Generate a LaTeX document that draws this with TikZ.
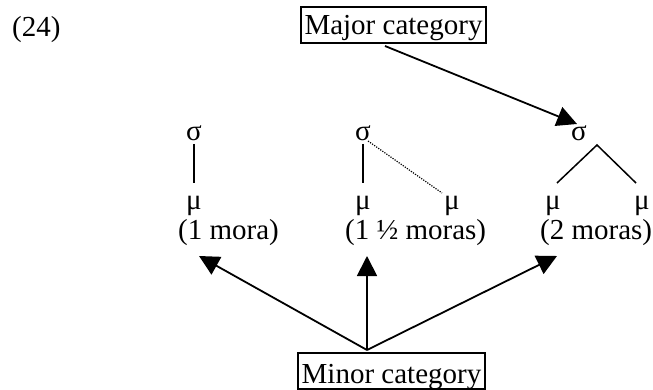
\documentclass[tikz,border=0pt]{standalone}
\usepackage{fontspec}
\setmainfont{Liberation Serif}
\usetikzlibrary{arrows.meta,calc}
\tikzset{
  txt/.style={inner sep=0pt, font=\fontsize{29}{34}\selectfont},
  catbox/.style={draw, line width=1.8pt, inner xsep=3.5pt, inner ysep=1pt, font=\fontsize{29}{34}\selectfont},
  branch/.style={line width=1.5pt},
  dotbranch/.style={line width=1.2pt, dash pattern=on 1.2pt off 1.3pt},
  bigarrow/.style={line width=1.8pt, -{Triangle[length=20pt,width=20pt]}}
}
\begin{document}
\begin{tikzpicture}[x=1pt,y=-1pt]
\useasboundingbox (0,0) rectangle (653,390);
% label
\node[txt, anchor=base west] (num) at (12,37) {(24)};
% category boxes
\node[catbox, text height=27pt, text depth=7pt, anchor=base] (maj) at (393.5,35) {Major category};
\node[catbox, text height=29pt, text depth=5pt, anchor=base] (mino) at (391.5,383) {Minor category};
% syllables
\node[txt, anchor=base] (s1) at (194,141) {σ};
\node[txt, anchor=base] (s2) at (363,141) {σ};
\node[txt, anchor=base] (s3) at (579,141) {σ};
% moras
\node[txt, anchor=base] (m1) at (194,210) {μ};
\node[txt, anchor=base] (m2a) at (363,210) {μ};
\node[txt, anchor=base] (m2b) at (452,210) {μ};
\node[txt, anchor=base] (m3a) at (553,210) {μ};
\node[txt, anchor=base] (m3b) at (642,210) {μ};
% labels
\node[txt, anchor=base west] (l1) at (178,240) {(1 mora)};
\node[txt, anchor=base west] (l2) at (345,240) {(1 ½ moras)};
\node[txt, anchor=base west] (l3) at (540,240) {(2 moras)};
% association lines
\draw[branch] ($(s1.base)+(0,3)$) -- ($(m1.base)+(0,-27)$);
\draw[branch] ($(s2.base)+(0,3)$) -- ($(m2a.base)+(0,-27)$);
\draw[dotbranch] ($(s2.base)+(5,0)$) -- ($(m2b.base)+(-10,-17)$);
\coordinate (apex) at ($(s3.base)+(18,4)$);
\draw[branch] ($(m3a.base)+(4,-27)$) -- (apex) -- ($(m3b.base)+(-6,-27)$);
% arrows
\draw[bigarrow] ($(maj.base)+(-8.5,11)$) -- ($(s3.base)+(-2,-17)$);
\coordinate (src) at ($(mino.base)+(-24.5,-33)$);
\draw[bigarrow] (src) -- ($(l1.base west)+(21,16)$);
\draw[bigarrow] (src) -- ($(l2.base west)+(22,16)$);
\draw[bigarrow] (src) -- ($(l3.base west)+(17,16)$);
\end{tikzpicture}
\end{document}
